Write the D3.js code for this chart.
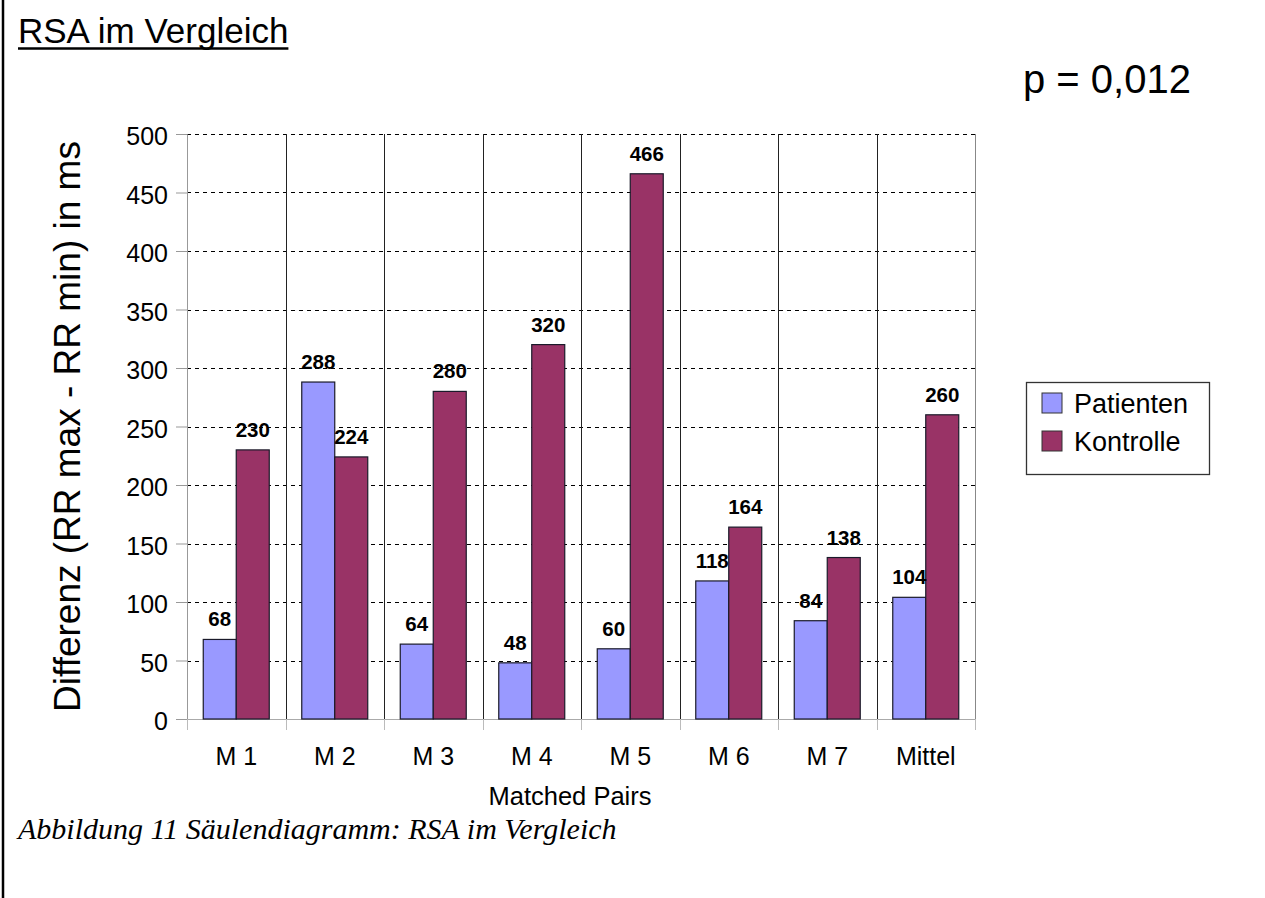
<!DOCTYPE html>
<html>
<head>
<meta charset="utf-8">
<script src="https://cdnjs.cloudflare.com/ajax/libs/d3/7.8.5/d3.min.js"></script>
<style>
    body { margin: 0; background: #fff; }
    svg { display: block; font-family: "Liberation Sans", Arial, sans-serif; }
</style>
</head>
<body>
<div id="vis"></div>
<script>
var categories = ['M 1', 'M 2', 'M 3', 'M 4', 'M 5', 'M 6', 'M 7', 'Mittel'];
var seriesNames = ['Patienten', 'Kontrolle'];
var patienten = [68, 288, 64, 48, 60, 118, 84, 104];
var kontrolle = [230, 224, 280, 320, 466, 164, 138, 260];
var yTicks = [0, 50, 100, 150, 200, 250, 300, 350, 400, 450, 500];

var colors = { Patienten: '#9999ff', Kontrolle: '#993366' };

var width = 1265;
var height = 898;
var margin = { left: 187, top: 134, right: 290, bottom: 179 };
var drawWidth = width - margin.left - margin.right;
var drawHeight = height - margin.top - margin.bottom;

var rows = categories.map(function(c, i) {
    return { cat: c, Patienten: patienten[i], Kontrolle: kontrolle[i] };
});

var svg = d3.select('#vis')
    .append('svg')
    .attr('width', width)
    .attr('height', height);

// left frame line
svg.append('line')
    .attr('x1', 3).attr('x2', 3)
    .attr('y1', 0).attr('y2', height)
    .attr('stroke', '#000')
    .attr('stroke-width', 2.5);

// title with underline
var title = svg.append('text')
    .attr('x', 18)
    .attr('y', 43)
    .style('font-size', '35px')
    .text('RSA im Vergleich');
var titleLen = title.node().getComputedTextLength();
svg.append('line')
    .attr('x1', 18).attr('x2', 18 + titleLen)
    .attr('y1', 48.5).attr('y2', 48.5)
    .attr('stroke', '#000')
    .attr('stroke-width', 2.5);

svg.append('text')
    .attr('x', 1023)
    .attr('y', 93)
    .style('font-size', '40px')
    .text('p = 0,012');

var g = svg.append('g')
    .attr('transform', 'translate(' + margin.left + ',' + margin.top + ')');

var xScale = d3.scaleBand()
    .domain(categories)
    .range([0, drawWidth])
    .paddingInner(0)
    .paddingOuter(0);

var bw = xScale.bandwidth();
var xInner = d3.scaleBand()
    .domain(seriesNames)
    .range([bw * 0.165, bw * 0.835])
    .padding(0);

var yScale = d3.scaleLinear()
    .domain([0, 500])
    .range([drawHeight, 0]);

// dashed horizontal gridlines
g.selectAll('.grid')
    .data(yTicks.filter(function(d) { return d > 0; }))
    .enter().append('line')
    .attr('class', 'grid')
    .attr('x1', 0).attr('x2', drawWidth)
    .attr('y1', d => Math.round(yScale(d)) + 0.5)
    .attr('y2', d => Math.round(yScale(d)) + 0.5)
    .attr('stroke', '#000')
    .attr('stroke-dasharray', '4,4');

// vertical category separators
var bounds = categories.slice(1).map(c => xScale(c));
g.selectAll('.sep')
    .data(bounds)
    .enter().append('line')
    .attr('class', 'sep')
    .attr('x1', d => Math.round(d) + 0.5)
    .attr('x2', d => Math.round(d) + 0.5)
    .attr('y1', 0).attr('y2', drawHeight)
    .attr('stroke', '#222');

g.append('line')
    .attr('x1', drawWidth + 0.5).attr('x2', drawWidth + 0.5)
    .attr('y1', 0).attr('y2', drawHeight)
    .attr('stroke', '#888');

// y axis
var yAxis = d3.axisLeft(yScale)
    .tickValues(yTicks)
    .tickSize(11)
    .tickPadding(8);
var yAxisG = g.append('g').attr('class', 'axis').call(yAxis);
yAxisG.select('.domain').attr('stroke', '#999');
yAxisG.selectAll('.tick line').attr('stroke', '#999');
yAxisG.selectAll('.tick text')
    .attr('fill', '#000')
    .attr('dy', '0.42em')
    .style('font-size', '25px')
    .style('font-family', '"Liberation Sans", Arial, sans-serif');

// x axis line and ticks at category boundaries
var xAxisG = g.append('g')
    .attr('transform', 'translate(0,' + drawHeight + ')');
xAxisG.append('line')
    .attr('x1', 0).attr('x2', drawWidth)
    .attr('y1', 0.5).attr('y2', 0.5)
    .attr('stroke', '#aaa');
xAxisG.selectAll('.xtick')
    .data([0].concat(bounds).concat([drawWidth]))
    .enter().append('line')
    .attr('x1', d => Math.round(d) + 0.5)
    .attr('x2', d => Math.round(d) + 0.5)
    .attr('y1', 0).attr('y2', 11)
    .attr('stroke', '#bbb');
xAxisG.selectAll('.xlabel')
    .data(categories)
    .enter().append('text')
    .attr('x', d => xScale(d) + bw / 2)
    .attr('y', 46)
    .attr('text-anchor', 'middle')
    .style('font-size', '25px')
    .text(d => d);

// bars
var groups = g.selectAll('.cat')
    .data(rows)
    .enter().append('g')
    .attr('class', 'cat')
    .attr('transform', d => 'translate(' + xScale(d.cat) + ',0)');

groups.selectAll('rect')
    .data(d => seriesNames.map(s => ({ key: s, value: d[s] })))
    .enter().append('rect')
    .attr('x', d => xInner(d.key))
    .attr('y', d => yScale(d.value))
    .attr('width', xInner.bandwidth())
    .attr('height', d => drawHeight - yScale(d.value))
    .style('fill', d => colors[d.key])
    .attr('stroke', '#1a1a2a')
    .attr('stroke-width', 1.2);

groups.selectAll('.val')
    .data(d => seriesNames.map(s => ({ key: s, value: d[s] })))
    .enter().append('text')
    .attr('class', 'val')
    .attr('x', d => xInner(d.key) + xInner.bandwidth() / 2)
    .attr('y', d => yScale(d.value) - 13)
    .attr('text-anchor', 'middle')
    .style('font-size', '20.5px')
    .style('font-weight', 'bold')
    .text(d => d.value);

// axis titles
svg.append('text')
    .attr('transform', 'translate(80,' + (margin.top + drawHeight / 2) + ') rotate(-90)')
    .attr('text-anchor', 'middle')
    .style('font-size', '37px')
    .text('Differenz (RR max - RR min) in ms');

svg.append('text')
    .attr('x', 570)
    .attr('y', 805)
    .attr('text-anchor', 'middle')
    .style('font-size', '25.5px')
    .text('Matched Pairs');

// legend
var legend = svg.append('g').attr('transform', 'translate(1026,382)');
legend.append('rect')
    .attr('x', 0.5).attr('y', 0.5)
    .attr('width', 183).attr('height', 92)
    .attr('fill', '#fff')
    .attr('stroke', '#333')
    .attr('stroke-width', 1.3);
var li = legend.selectAll('.li')
    .data(seriesNames)
    .enter().append('g')
    .attr('transform', (d, i) => 'translate(16,' + (11 + i * 38) + ')');
li.append('rect')
    .attr('width', 20).attr('height', 20)
    .style('fill', d => colors[d])
    .attr('stroke', '#333');
li.append('text')
    .attr('x', 32)
    .attr('y', 20)
    .style('font-size', '27px')
    .text(d => d);

// caption
svg.append('text')
    .attr('x', 18)
    .attr('y', 839)
    .style('font-family', '"Liberation Serif", "Times New Roman", serif')
    .style('font-style', 'italic')
    .style('font-size', '30px')
    .text('Abbildung 11 Säulendiagramm: RSA im Vergleich');
</script>
</body>
</html>
